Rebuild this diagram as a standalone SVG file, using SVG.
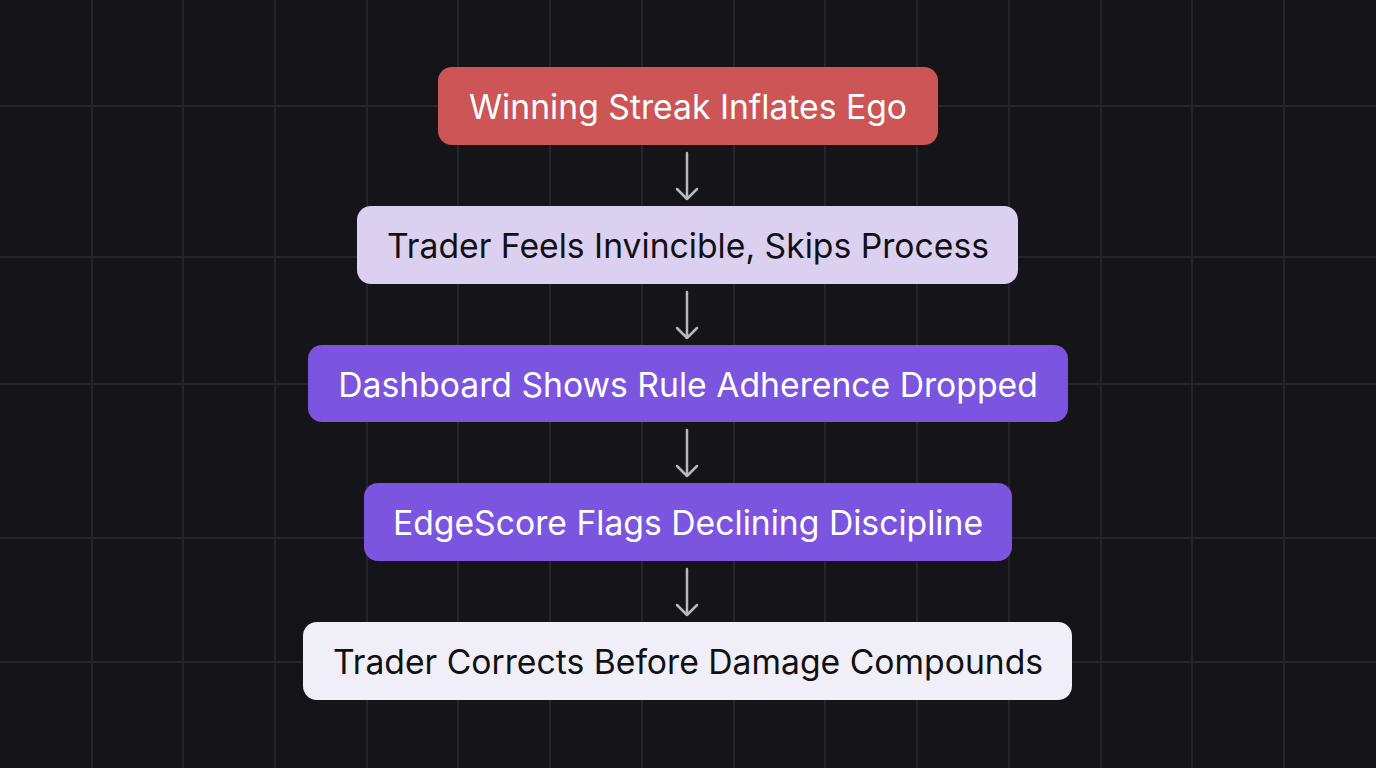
<svg xmlns="http://www.w3.org/2000/svg" width="1376" height="768" viewBox="0 0 1376 768">
<style>
.g{stroke:#25242c;stroke-width:2}
.t{font-family:Inter,"Noto Sans",sans-serif;font-size:33.7px;text-anchor:middle;dominant-baseline:central}
.w{fill:#ffffff}.d{fill:#111114}
.c{stroke:#b8b8c0;stroke-width:2.5;fill:none;stroke-linecap:round;stroke-linejoin:round}
</style>
<rect width="1376" height="768" fill="#151419"/>
<g id="grid" class="g">
<line x1="92" y1="0" x2="92" y2="768"/><line x1="183" y1="0" x2="183" y2="768"/><line x1="275" y1="0" x2="275" y2="768"/><line x1="367" y1="0" x2="367" y2="768"/><line x1="458" y1="0" x2="458" y2="768"/><line x1="550" y1="0" x2="550" y2="768"/><line x1="642" y1="0" x2="642" y2="768"/><line x1="734" y1="0" x2="734" y2="768"/><line x1="825" y1="0" x2="825" y2="768"/><line x1="917" y1="0" x2="917" y2="768"/><line x1="1009" y1="0" x2="1009" y2="768"/><line x1="1101" y1="0" x2="1101" y2="768"/><line x1="1192" y1="0" x2="1192" y2="768"/><line x1="1284" y1="0" x2="1284" y2="768"/>
<line x1="0" y1="106" x2="1376" y2="106"/><line x1="0" y1="257" x2="1376" y2="257"/><line x1="0" y1="384" x2="1376" y2="384"/><line x1="0" y1="538" x2="1376" y2="538"/><line x1="0" y1="662" x2="1376" y2="662"/>
</g>
<g id="connectors" class="c">
<path d="M687 153V199M677 189L687 199L697 189"/>
<path d="M687 292V338M677 328L687 338L697 328"/>
<path d="M687 430V476M677 466L687 476L697 466"/>
<path d="M687 569V615M677 605L687 615L697 605"/>
</g>
<g id="n1"><rect x="438" y="67" width="500" height="78" rx="14" fill="#cd5555"/><text class="t w" x="688" y="106">Winning Streak Inflates Ego</text></g>
<g id="n2"><rect x="357" y="206" width="661" height="78" rx="14" fill="#dcd0f0"/><text class="t d" x="688" y="245">Trader Feels Invincible, Skips Process</text></g>
<g id="n3"><rect x="308" y="345" width="760" height="77" rx="14" fill="#7b55e0"/><text class="t w" x="688" y="384">Dashboard Shows Rule Adherence Dropped</text></g>
<g id="n4"><rect x="364" y="483" width="648" height="78" rx="14" fill="#7b55e0"/><text class="t w" x="688" y="522">EdgeScore Flags Declining Discipline</text></g>
<g id="n5"><rect x="303" y="622" width="769" height="78" rx="14" fill="#f0eef6"/><text class="t d" x="688" y="661">Trader Corrects Before Damage Compounds</text></g>
</svg>
